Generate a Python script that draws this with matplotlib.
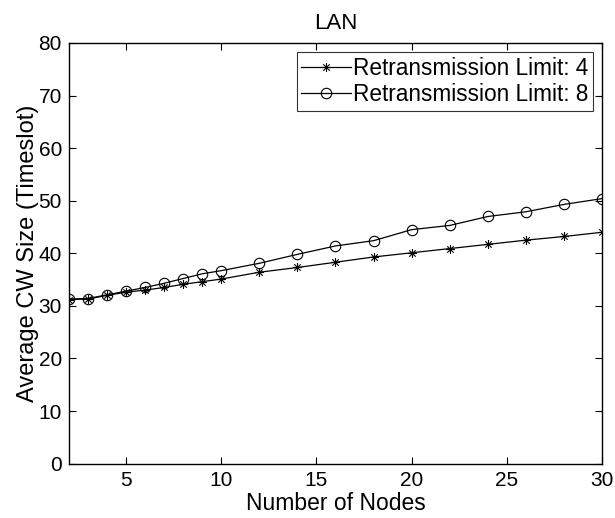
import matplotlib
matplotlib.use("Agg")
import matplotlib.pyplot as plt
import numpy as np
from matplotlib.path import Path

plt.rcParams['font.family'] = ['Liberation Sans', 'DejaVu Sans']

nodes = [2, 3, 4, 5, 6, 7, 8, 9, 10, 12, 14, 16, 18, 20, 22, 24, 26, 28, 30]
cw_limit4 = [31.2, 31.3, 32.0, 32.6, 33.0, 33.5, 34.1, 34.6, 35.1, 36.4, 37.3,
             38.3, 39.3, 40.1, 40.9, 41.7, 42.5, 43.2, 44.0]
cw_limit8 = [31.3, 31.4, 32.1, 32.8, 33.5, 34.3, 35.2, 36.1, 36.7, 38.1, 39.8,
             41.4, 42.4, 44.5, 45.3, 47.0, 47.9, 49.3, 50.4]

# MATLAB-style asterisk: plus and cross drawn together
d = np.sqrt(0.5)
verts = [(-1, 0), (1, 0), (0, -1), (0, 1), (-d, -d), (d, d), (-d, d), (d, -d)]
codes = [Path.MOVETO, Path.LINETO] * 4
asterisk = Path(verts, codes)

fig = plt.figure(figsize=(6.15, 5.18), dpi=100)
ax = fig.add_axes([0.112, 0.105, 0.867, 0.812])

ax.plot(nodes, cw_limit4, color='black', lw=0.9, marker=asterisk, markersize=6.5,
        markeredgewidth=0.8, label='Retransmission Limit: 4')
ax.plot(nodes, cw_limit8, color='black', lw=0.9, marker='o', markersize=7.5,
        markerfacecolor='none', markeredgewidth=0.8, label='Retransmission Limit: 8')

ax.set_xlim(2, 30)
ax.set_ylim(0, 80)
ax.set_xticks([5, 10, 15, 20, 25, 30])
ax.set_yticks(range(0, 81, 10))
ax.tick_params(direction='in', top=True, right=True, labelsize=15, length=5, pad=5)
for s in ax.spines.values():
    s.set_linewidth(1.0)

ax.set_xlabel('Number of Nodes', fontsize=16.5, labelpad=2)
ax.set_ylabel('Average CW Size (Timeslot)', fontsize=17, labelpad=0)
ax.set_title('LAN', fontsize=16, pad=10)

leg = ax.legend(loc='upper right', fontsize=16.3, frameon=True, fancybox=False,
                edgecolor='black', handlelength=2.2, handletextpad=0.1,
                borderpad=0.2, labelspacing=0.15, borderaxespad=0.4)
leg.get_frame().set_linewidth(0.8)

fig.savefig('out.png', dpi=100)
